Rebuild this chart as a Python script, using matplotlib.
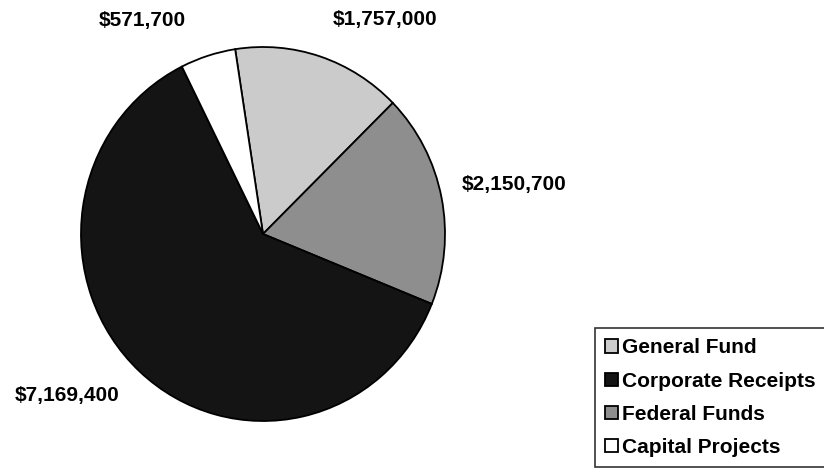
import numpy as np
import matplotlib
matplotlib.use("Agg")
import matplotlib.pyplot as plt

# slices, clockwise from near the top
slice_names = ["General Fund", "Federal Funds", "Corporate Receipts", "Capital Projects"]
slice_values = [1757000, 2150700, 7169400, 571700]
slice_colors = ["#cbcbcb", "#8e8e8e", "#141414", "#ffffff"]
legend_order = ["General Fund", "Corporate Receipts", "Federal Funds", "Capital Projects"]

plt.rcParams["font.family"] = ["Liberation Sans", "DejaVu Sans"]

W, H = 824, 472
fig = plt.figure(figsize=(W / 100, H / 100), dpi=100)

# pie axes in pixels: centre (263, 234), radius ~182 x 187
cx, cy, rx, ry = 263, 234, 182, 187
ax = fig.add_axes([(cx - rx) / W, (H - cy - ry) / H, 2 * rx / W, 2 * ry / H])

wedges, _ = ax.pie(slice_values, colors=slice_colors, startangle=98.8,
                   counterclock=False, radius=1,
                   wedgeprops=dict(edgecolor="black", linewidth=1.3))
ax.set_aspect("auto")
ax.set_xlim(-1, 1)
ax.set_ylim(-1, 1)
ax.axis("off")

# value labels outside the pie
label_dist = [1.33, 1.405, 1.38, 1.32]
label_shift = [-12, -0.5, -8.4, 12.5]
for w, v, d, s in zip(wedges, slice_values, label_dist, label_shift):
    ang = np.deg2rad((w.theta1 + w.theta2) / 2 + s)
    ax.text(d * np.cos(ang), d * np.sin(ang), "${:,}".format(v),
            ha="center", va="center", fontsize=15, fontweight="bold",
            clip_on=False)

# legend box runs off the right edge, as in the scan
handles = [wedges[slice_names.index(n)] for n in legend_order]
leg = fig.legend(handles, legend_order, loc="upper left",
                 bbox_to_anchor=(595 / W, 1 - 328 / H, 240 / W, 0),
                 mode="expand",
                 prop=dict(weight="bold", size=15),
                 frameon=True, fancybox=False, handlelength=0.62,
                 handleheight=0.62, handletextpad=0.2, labelspacing=0.68,
                 borderpad=0.5, borderaxespad=0)
leg.get_frame().set_edgecolor("black")
leg.get_frame().set_linewidth(1.2)

fig.savefig("out.png", dpi=100)
